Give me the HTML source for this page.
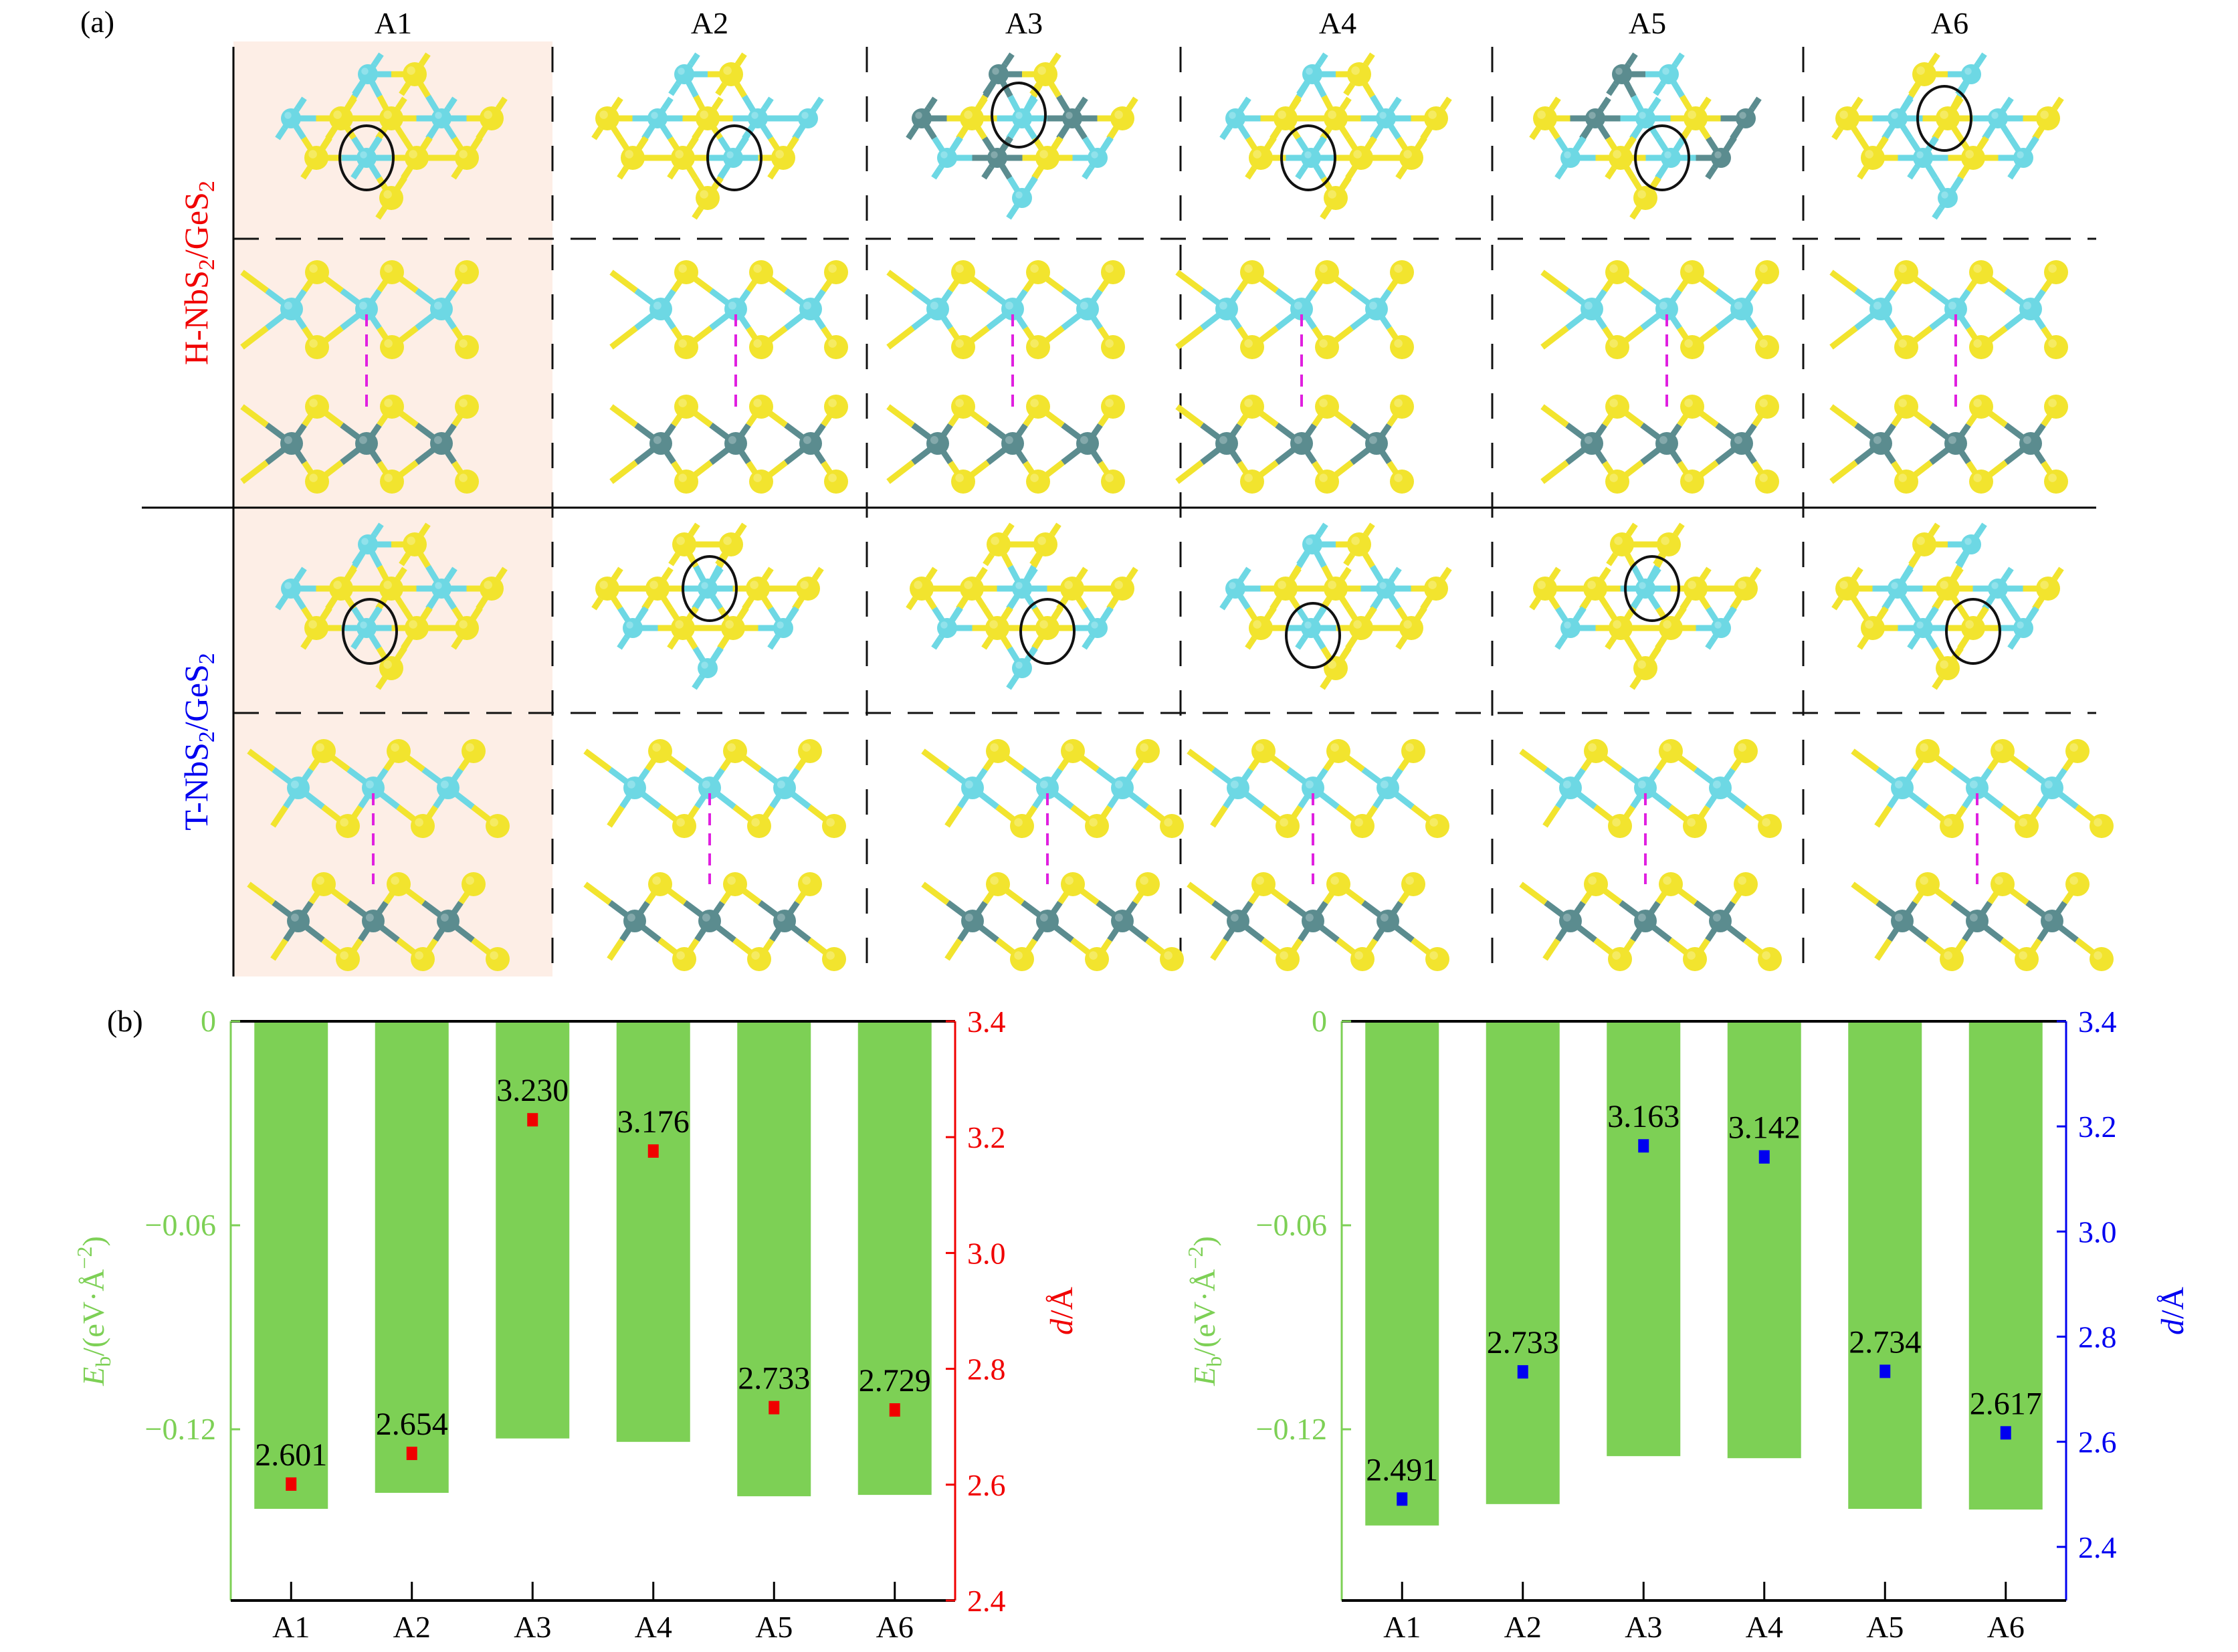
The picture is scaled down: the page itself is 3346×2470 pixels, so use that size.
<!DOCTYPE html>
<html><head><meta charset="utf-8"><style>
html,body{margin:0;padding:0;background:#fff;}
svg{display:block;font-family:"Liberation Serif",serif;}
</style></head><body>
<svg id="fig" width="3346" height="2470" viewBox="0 0 3346 2470" xmlns="http://www.w3.org/2000/svg">
<g id="panelA"></g>
<g id="chartL"></g>
<g id="chartR"></g>
</svg>
<script>
// ===== chart data =====
const categories = ["A1","A2","A3","A4","A5","A6"];
const ebH = [-0.1434,-0.1387,-0.1227,-0.1237,-0.1397,-0.1393];
const dH = [2.601,2.654,3.230,3.176,2.733,2.729];
const ebT = [-0.1483,-0.1420,-0.1279,-0.1285,-0.1434,-0.1436];
const dT = [2.491,2.733,3.163,3.142,2.734,2.617];
const ebTicks = [0,-0.06,-0.12];
const ebTickLabels = ["0","\u22120.06","\u22120.12"];
const dTicks = [2.4,2.6,2.8,3.0,3.2,3.4];
const dTickLabels = ["2.4","2.6","2.8","3.0","3.2","3.4"];

const NS="http://www.w3.org/2000/svg";
function mk(parent,tag,attrs,text){const e=document.createElementNS(NS,tag);for(const k in attrs)e.setAttribute(k,attrs[k]);if(text!==undefined)e.textContent=text;parent.appendChild(e);return e;}

const GREEN="#7dd055";
function drawChart(g,x0,x1,dMin,dColor,ebVals,dVals){
  const yTop=1527,yBot=2393;
  const yE=v=>yTop+(-v)/0.06*305;
  const yD=v=>yTop+(3.4-v)/(3.4-dMin)*(yBot-yTop);
  const step=(x1-x0)/categories.length;
  const xC=i=>x0+(i+0.5)*step;
  categories.forEach((c,i)=>{
    const b=mk(g,'rect',{x:xC(i)-55,y:yTop,width:110,height:yE(ebVals[i])-yTop,fill:GREEN});
    
    
  });
  let a=mk(g,'line',{x1:x0,y1:yTop,x2:x0,y2:yBot,stroke:GREEN,'stroke-width':3});
  
  a=mk(g,'line',{x1:x1,y1:yTop,x2:x1,y2:yBot,stroke:dColor,'stroke-width':3});
  
  a=mk(g,'line',{x1:x0,y1:yTop,x2:x1,y2:yTop,stroke:'#000','stroke-width':4});
  
  a=mk(g,'line',{x1:x0,y1:yBot,x2:x1,y2:yBot,stroke:'#000','stroke-width':4});
  
  ebTicks.forEach((t,i)=>{
    const y=yE(t);
    mk(g,'line',{x1:x0,y1:y,x2:x0+14,y2:y,stroke:GREEN,'stroke-width':3});
    const l=mk(g,'text',{x:x0-22,y:y+15,'text-anchor':'end','font-size':46,fill:GREEN},ebTickLabels[i]);
    
  });
  dTicks.forEach((t,i)=>{
    const y=yD(t);
    mk(g,'line',{x1:x1,y1:y,x2:x1-14,y2:y,stroke:dColor,'stroke-width':3});
    const l=mk(g,'text',{x:x1+18,y:y+16,'font-size':46,fill:dColor},dTickLabels[i]);
    
  });
  categories.forEach((c,i)=>{
    const x=xC(i);
    mk(g,'line',{x1:x,y1:yBot,x2:x,y2:yBot-28,stroke:'#000','stroke-width':3});
    const l=mk(g,'text',{x:x,y:yBot+55,'text-anchor':'middle','font-size':46,fill:'#000'},c);
    
    const my=yD(dVals[i]);
    const m=mk(g,'rect',{x:x-8,y:my-10,width:16,height:20,fill:dColor});
    
    const v=mk(g,'text',{x:x,y:my-28,'text-anchor':'middle','font-size':48,fill:'#000'},dVals[i].toFixed(3));
    
  });
  const yc=1960;
  let t=mk(g,'text',{transform:`translate(${x0-190},${yc}) rotate(-90)`,'text-anchor':'middle','font-size':46,fill:GREEN});
  t.innerHTML='<tspan font-style="italic">E</tspan><tspan font-size="32" dy="10">b</tspan><tspan dy="-10">/(eV·Å</tspan><tspan font-size="32" dy="-18">−2</tspan><tspan dy="18">)</tspan>';
  
  t=mk(g,'text',{transform:`translate(${x1+175},${yc}) rotate(-90)`,'text-anchor':'middle','font-size':48,fill:dColor});
  t.innerHTML='<tspan font-style="italic">d</tspan>/Å';
  
}
drawChart(document.getElementById('chartL'),345,1428,2.4,'#f00000',ebH,dH);
drawChart(document.getElementById('chartR'),2006,3089,2.298,'#0000f0',ebT,dT);
let bl=mk(document.getElementById('chartL'),'text',{x:160,y:1542,'font-size':46,fill:'#000'},'(b)');


// ===== structure panel (a) =====
const P=document.getElementById('panelA');
const YEL="#f2e42e",CY="#6dd8e4",TE="#5b8c8f";
mk(P,'rect',{x:349,y:62,width:477,height:1398,fill:'#fdeee6'});
const colC=[588,1061,1531,2000,2463,2915];
const colB=[826,1296,1765,2231,2696];
mk(P,'line',{x1:349,y1:70,x2:349,y2:1460,stroke:'#000','stroke-width':3});
mk(P,'line',{x1:212,y1:759,x2:3134,y2:759,stroke:'#000','stroke-width':3});
[357,1066].forEach(y=>mk(P,'line',{x1:349,y1:y,x2:3134,y2:y,stroke:'#111','stroke-width':3,'stroke-dasharray':'38,25'}));
colB.forEach(x=>mk(P,'line',{x1:x,y1:70,x2:x,y2:1460,stroke:'#111','stroke-width':3,'stroke-dasharray':'38,36'}));
let lab=mk(P,'text',{x:120,y:48,'font-size':46},'(a)');

categories.forEach((c,i)=>{const t=mk(P,'text',{x:colC[i],y:50,'text-anchor':'middle','font-size':46},c);
  });
let rl=mk(P,'text',{transform:'translate(310,408) rotate(-90)','text-anchor':'middle','font-size':50,fill:'#f00000'});
rl.innerHTML='H-NbS<tspan font-size="34" dy="10">2</tspan><tspan dy="-10">/GeS</tspan><tspan font-size="34" dy="10">2</tspan>';

rl=mk(P,'text',{transform:'translate(310,1109) rotate(-90)','text-anchor':'middle','font-size':50,fill:'#0000f0'});
rl.innerHTML='T-NbS<tspan font-size="34" dy="10">2</tspan><tspan dy="-10">/GeS</tspan><tspan font-size="34" dy="10">2</tspan>';


function bond(g,x1,y1,x2,y2,c1,c2){const mx=(x1+x2)/2,my=(y1+y2)/2;
  mk(g,'line',{x1:x1,y1:y1,x2:mx,y2:my,stroke:c1,'stroke-width':9});
  mk(g,'line',{x1:mx,y1:my,x2:x2,y2:y2,stroke:c2,'stroke-width':9});}
function atom(g,x,y,r,c){mk(g,'circle',{cx:x,cy:y,r:r,fill:c});mk(g,'circle',{cx:x-r*0.3,cy:y-r*0.3,r:r*0.35,fill:'#fff',opacity:0.25});}
const sites=[[-38,-66],[32,-66],[-153,0],[-78,0],[-3,0],[72,0],[147,0],[-115,59],[-40,59],[35,59],[110,59],[-3,119]];
const hCols=[
 "CYCYYCYYCYYY","CYYCYCCYYCYY","TYTYCTYCTYCC","CYCYYCYYCYYY","TCYTCYTCYCTY","YCYCYCYYCYCC"];
const tCols=[
 "CYCYYCYYCYYY","YYYYCYYCYYCC","YYYYCYYCYYCC","CYCYYCYYCYYY","YYYYCYYCYYCY","YCYCYCYYCYCY"];
const hCirc=[[-40,59],[37,59],[-8,-5],[-44,59],[22,59],[-8,0]];
const tCirc=[[-35,64],[0,0],[35,64],[-37,70],[7,0],[35,64]];
function topView(cx,cy,pat,circ){
  const g=mk(P,'g',{});
  
  const col=ch=>ch==='Y'?YEL:(ch==='C'?CY:TE);
  for(let i=0;i<sites.length;i++)for(let j=i+1;j<sites.length;j++){
    const a=sites[i],b=sites[j];const d=Math.hypot(a[0]-b[0],(a[1]-b[1])*1.15);
    if(d<90&&pat[i]!==pat[j]||d<80)bond(g,cx+a[0],cy+a[1],cx+b[0],cy+b[1],col(pat[i]),col(pat[j]));
  }
  sites.forEach((s,i)=>{const x=cx+s[0],y=cy+s[1];
    bond(g,x,y,x+20,y-30,col(pat[i]),col(pat[i]));bond(g,x,y,x-20,y+30,col(pat[i]),col(pat[i]));
    atom(g,x,y,pat[i]==='Y'?18:15,col(pat[i]));});
  mk(g,'ellipse',{cx:cx+circ[0],cy:cy+circ[1],rx:40,ry:48,fill:'none',stroke:'#111','stroke-width':4});
}
function sideLayer(g,x,y,metal,t){
  const s1=38,s2=t?74:38;
  for(let k=-1;k<=1;k++){
    const mx=x+k*112;
    bond(g,mx,y,mx+s1,y-55,metal,YEL);bond(g,mx,y,mx+s2,y+57,metal,YEL);
    bond(g,mx,y,mx+s1-112,y-55,metal,YEL);bond(g,mx,y,mx+s2-112,y+57,metal,YEL);
  }
  for(let k=-1;k<=1;k++){const mx=x+k*112;
    atom(g,mx+s1,y-55,18,YEL);atom(g,mx+s2,y+57,18,YEL);atom(g,mx,y,17,metal);}
}
const hLine=[-40,39,-17,-54,29,9];
const tLine=[-30,0,35,-37,-3,41];
colC.forEach((cx,i)=>{
  topView(cx,177,hCols[i],hCirc[i]);
  topView(cx,880,tCols[i],tCirc[i]);
  const g=mk(P,'g',{});
  let lx=cx+hLine[i];
  sideLayer(g,lx,462,CY,false);sideLayer(g,lx,663,TE,false);
  mk(g,'line',{x1:lx,y1:470,x2:lx,y2:612,stroke:'#e020e0','stroke-width':4,'stroke-dasharray':'18,12'});
  lx=cx+tLine[i];
  sideLayer(g,lx,1178,CY,true);sideLayer(g,lx,1377,TE,true);
  mk(g,'line',{x1:lx,y1:1186,x2:lx,y2:1322,stroke:'#e020e0','stroke-width':4,'stroke-dasharray':'18,12'});
});
</script>
</body></html>
